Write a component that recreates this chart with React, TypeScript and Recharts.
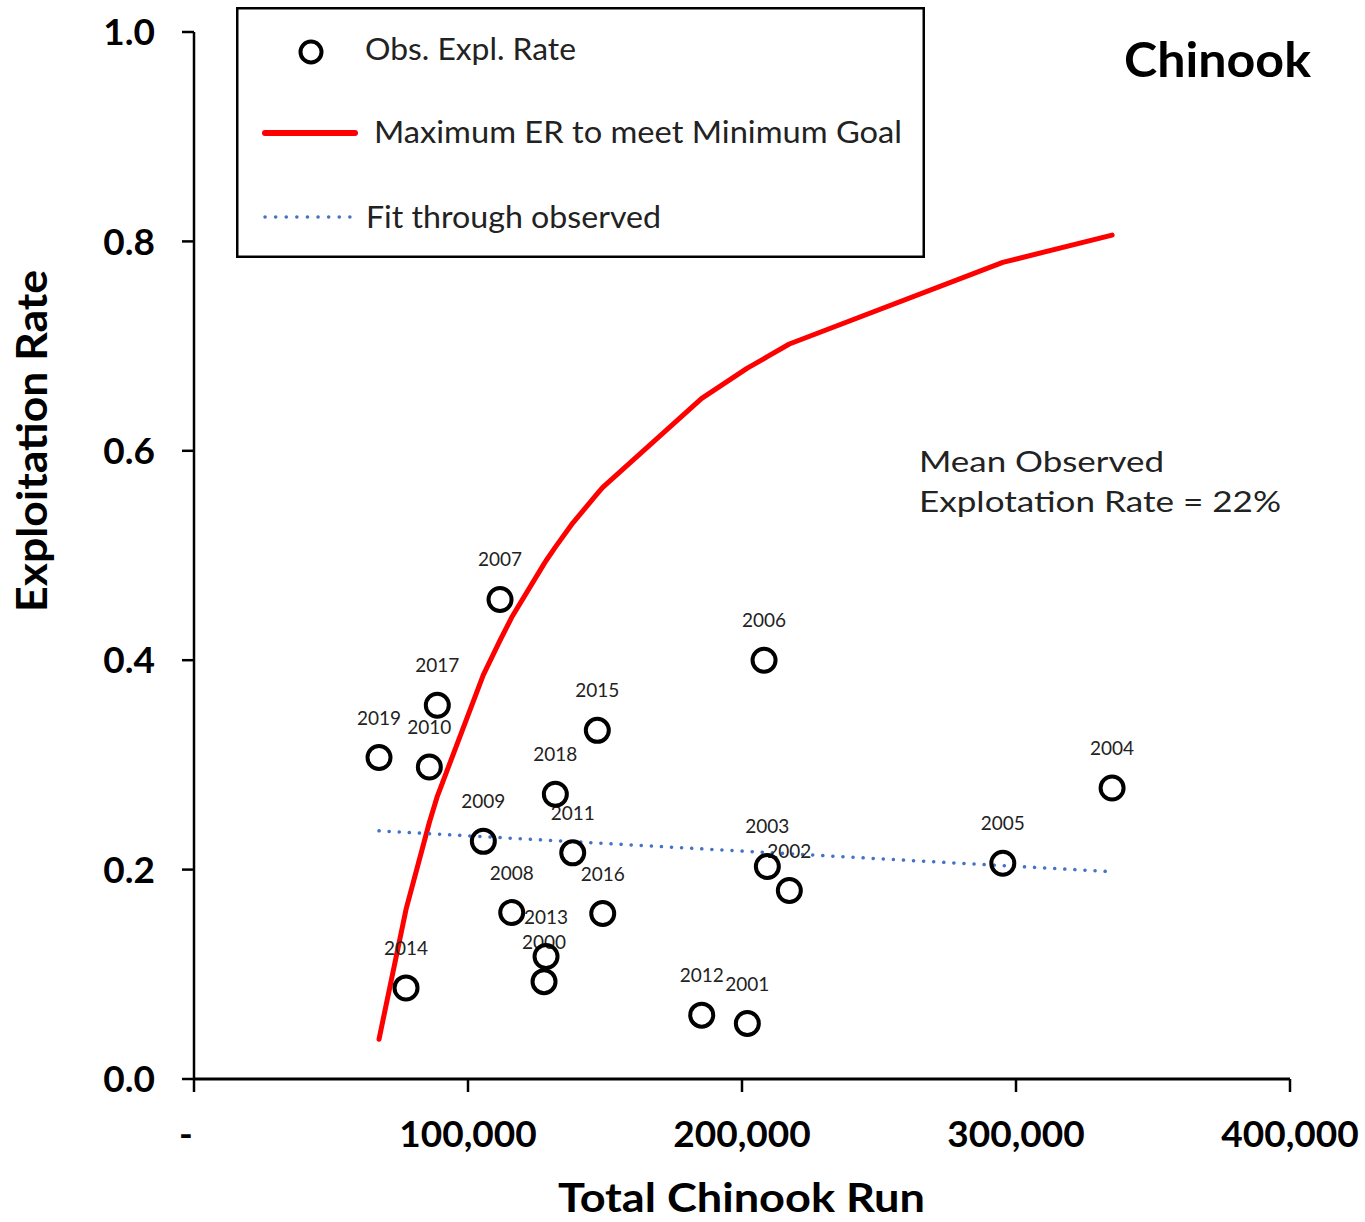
import React from "react";
import { Customized, Legend, Scatter, ScatterChart, XAxis, YAxis } from "recharts";

const years = [
  "2000", "2001", "2002", "2003", "2004", "2005", "2006", "2007", "2008", "2009",
  "2010", "2011", "2012", "2013", "2014", "2015", "2016", "2017", "2018", "2019",
];
const obsRun = [
  127750, 201950, 217280, 209250, 335070, 295180, 208050, 111690, 115960, 105600,
  85890, 138220, 185300, 128480, 77380, 147200, 149170, 88800, 131880, 67525,
];
const obsRate = [
  0.093, 0.053, 0.18, 0.203, 0.278, 0.206, 0.4, 0.458, 0.159, 0.227,
  0.298, 0.216, 0.061, 0.117, 0.087, 0.333, 0.158, 0.357, 0.272, 0.307,
];

// max ER to meet minimum goal, read at each observed run size
const goalRun = [
  67525, 77380, 85890, 88800, 105600, 111690, 115960, 127750, 128480, 131880,
  138220, 147200, 149170, 185300, 201950, 208050, 209250, 217280, 295180, 335070,
];
const goalRate = [
  0.038, 0.162, 0.245, 0.27, 0.386, 0.419, 0.441, 0.492, 0.495, 0.508,
  0.531, 0.559, 0.565, 0.65, 0.679, 0.688, 0.69, 0.702, 0.78, 0.806,
];

const fitRun = [67525, 335070];
const fitRate = [0.237, 0.198];

const xTicks = [0, 100000, 200000, 300000, 400000];
const yTicks = [0, 0.2, 0.4, 0.6, 0.8, 1.0];

const obsData = years.map((year, i) => ({ year, x: obsRun[i], y: obsRate[i] }));
const goalData = goalRun.map((x, i) => ({ x, y: goalRate[i] }));
const fitData = fitRun.map((x, i) => ({ x, y: fitRate[i] }));

const FONT = "Lato, 'Open Sans', sans-serif";

function ObsPoint(props: any) {
  const { cx, cy, payload } = props;
  return (
    <g>
      <circle cx={cx} cy={cy} r={11.5} fill="none" stroke="#000" strokeWidth={4} />
      <text x={cx} y={cy - 33} textAnchor="middle" fontFamily={FONT} fontSize={19} fill="#222">
        {payload.year}
      </text>
    </g>
  );
}

function XTick(props: any) {
  const { x, y, payload } = props;
  const isZero = payload.value === 0;
  return (
    <text
      x={isZero ? x - 8 : x}
      y={y}
      dy="0.71em"
      textAnchor="middle"
      fontFamily={FONT}
      fontWeight={700}
      fontSize={37}
      fill="#000"
    >
      {isZero ? "-" : payload.value.toLocaleString("en-US")}
    </text>
  );
}

function LegendBox() {
  const text = { fontFamily: FONT, fontSize: 30, fill: "#222", lengthAdjust: "spacingAndGlyphs" as const };
  return (
    <svg width={689} height={251} style={{ display: "block" }}>
      <rect x={1.25} y={1.25} width={686.5} height={248.5} fill="#fff" stroke="#000" strokeWidth={2.5} />
      <circle cx={75} cy={45} r={10.5} fill="none" stroke="#000" strokeWidth={4} />
      <text x={129} y={53} textLength={211} {...text}>Obs. Expl. Rate</text>
      <line x1={29} y1={126} x2={119} y2={126} stroke="#ff0000" strokeWidth={6} strokeLinecap="round" />
      <text x={138} y={136} textLength={528} {...text}>Maximum ER to meet Minimum Goal</text>
      <line x1={29} y1={210} x2={114} y2={210} stroke="#4472c4" strokeWidth={3.5} strokeDasharray="0.1 10.5" strokeLinecap="round" />
      <text x={130} y={221} textLength={295} {...text}>Fit through observed</text>
    </svg>
  );
}

function Annotations() {
  return (
    <g fontFamily={FONT}>
      <text x={1124} y={77} fontSize={48} fontWeight={700} fill="#000" textLength={187} lengthAdjust="spacingAndGlyphs">
        Chinook
      </text>
      <text x={919} y={472} fontSize={29} fill="#222" textLength={245} lengthAdjust="spacingAndGlyphs">
        Mean Observed
      </text>
      <text x={919} y={512} fontSize={29} fill="#222" textLength={362} lengthAdjust="spacingAndGlyphs">
        Explotation Rate = 22%
      </text>
    </g>
  );
}

export default function App() {
  return (
    <div style={{ position: "absolute", left: 0, top: 0, background: "#fff" }}>
      <ScatterChart width={1365} height={1222} margin={{ top: 32, right: 75, bottom: 0, left: 0 }}>
        <XAxis
          type="number"
          dataKey="x"
          domain={[0, 400000]}
          ticks={xTicks}
          height={143}
          tickSize={13}
          tickMargin={29}
          tick={<XTick />}
          axisLine={{ stroke: "#000", strokeWidth: 3 }}
          tickLine={{ stroke: "#000", strokeWidth: 2.5 }}
          label={{
            content: () => (
              <text
                x={741.5}
                y={1212}
                textAnchor="middle"
                fontFamily={FONT}
                fontWeight={700}
                fontSize={41}
                fill="#000"
                textLength={367}
                lengthAdjust="spacingAndGlyphs"
              >
                Total Chinook Run
              </text>
            ),
          }}
        />
        <YAxis
          type="number"
          dataKey="y"
          domain={[0, 1]}
          ticks={yTicks}
          width={194}
          tickSize={12}
          tickMargin={27}
          tickFormatter={(v: number) => v.toFixed(1)}
          tick={{ fontFamily: FONT, fontWeight: 700, fontSize: 37, fill: "#000" }}
          axisLine={{ stroke: "#000", strokeWidth: 2.5 }}
          tickLine={{ stroke: "#000", strokeWidth: 2.5 }}
          label={{
            content: () => (
              <text
                x={47}
                y={441}
                transform="rotate(-90, 47, 441)"
                textAnchor="middle"
                fontFamily={FONT}
                fontWeight={700}
                fontSize={42}
                fill="#000"
                textLength={342}
                lengthAdjust="spacingAndGlyphs"
              >
                Exploitation Rate
              </text>
            ),
          }}
        />
        <Legend
          layout="vertical"
          align="center"
          verticalAlign="middle"
          content={() => <LegendBox />}
          wrapperStyle={{ position: "absolute", left: 236, top: 7, width: 689, height: 251 }}
        />
        <Scatter
          name="Maximum ER to meet Minimum Goal"
          data={goalData}
          line={{ stroke: "#ff0000", strokeWidth: 5, strokeLinejoin: "round", strokeLinecap: "round" }}
          shape={() => <g />}
          isAnimationActive={false}
        />
        <Scatter
          name="Fit through observed"
          data={fitData}
          line={{ stroke: "#4472c4", strokeWidth: 3.5, strokeDasharray: "0.1 10", strokeLinecap: "round" }}
          shape={() => <g />}
          isAnimationActive={false}
        />
        <Scatter name="Obs. Expl. Rate" data={obsData} shape={<ObsPoint />} isAnimationActive={false} />
        <Customized component={<Annotations />} />
      </ScatterChart>
    </div>
  );
}
